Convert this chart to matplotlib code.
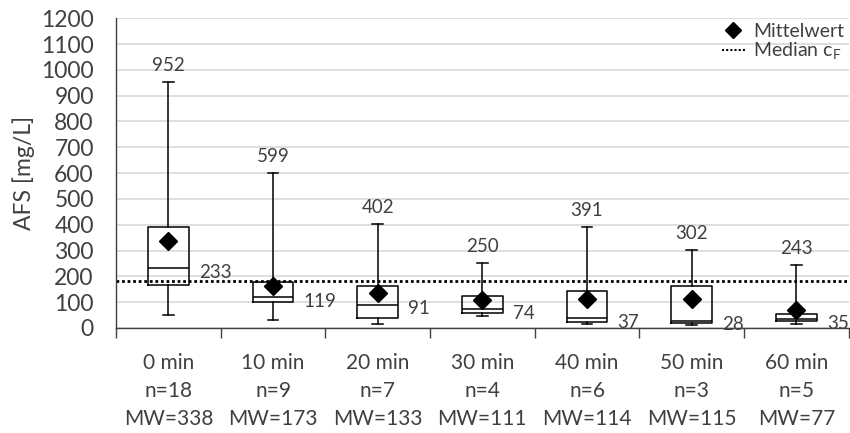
import numpy as np
import matplotlib
matplotlib.use("Agg")
import matplotlib.pyplot as plt
from matplotlib.lines import Line2D

plt.rcParams.update({"font.family": ["Lato", "DejaVu Sans"], "font.size": 15,
                     "mathtext.fontset": "custom", "mathtext.rm": "Lato"})

TXT = "#404040"

# ---- data -----------------------------------------------------------------
times = ["0 min", "10 min", "20 min", "30 min", "40 min", "50 min", "60 min"]
n_vals = [18, 9, 7, 4, 6, 3, 5]
mw_vals = [338, 173, 133, 111, 114, 115, 77]
whis_hi = [952, 599, 402, 250, 391, 302, 243]
q3 = [390, 177, 164, 124, 143, 163, 55]
medians = [233, 119, 91, 74, 37, 28, 35]
q1 = [168, 99, 39, 58, 25, 19, 28]
whis_lo = [50, 30, 15, 45, 17, 10, 17]
means = [338, 162, 135, 110, 111, 114, 71]
median_cf = 181


def main():
    fig = plt.figure(figsize=(8.5, 4.33), dpi=100)
    ax = fig.add_axes([0.1365, 0.2425, 0.862, 0.7155])

    stats = [dict(med=m, q1=a, q3=b, whislo=lo, whishi=hi, mean=mu)
             for m, a, b, lo, hi, mu in zip(medians, q1, q3, whis_lo,
                                            whis_hi, means)]
    pos = np.arange(len(times))
    ax.bxp(stats, positions=pos, widths=0.39, capwidths=0.1,
           showmeans=True, showfliers=False,
           boxprops=dict(color="black", lw=1.1),
           whiskerprops=dict(color="black", lw=1.1),
           capprops=dict(color="black", lw=1.1),
           medianprops=dict(color="black", lw=1.1),
           meanprops=dict(marker="D", markerfacecolor="black",
                          markeredgecolor="black", markersize=9.5))

    ax.axhline(median_cf, color="black", lw=2.0, ls=(0, (1, 1)), zorder=1)

    # value labels: maximum above whisker, median to the right of the box
    for i in pos:
        ax.annotate(f"{whis_hi[i]}", (i, whis_hi[i]), xytext=(0, 6),
                    textcoords="offset points", ha="center", va="bottom",
                    fontsize=13.5, color=TXT)
        ax.annotate(f"{medians[i]}", (i + 0.29, medians[i]), xytext=(0, -3),
                    textcoords="offset points", ha="left", va="center",
                    fontsize=13.5, color=TXT)

    ax.set_xlim(-0.5, len(times) - 0.5)
    ax.set_ylim(0, 1200)
    ax.set_yticks(np.arange(0, 1201, 100))
    ax.yaxis.grid(True, color="#d9d9d9", lw=1.2)
    ax.set_axisbelow(True)
    ax.tick_params(axis="y", length=0, colors=TXT, labelsize=16.5, pad=16)

    ax.set_xticks(pos)
    ax.set_xticklabels([f"{t}\nn={n}\nMW={m}" for t, n, m in
                        zip(times, n_vals, mw_vals)],
                       linespacing=1.5)
    ax.tick_params(axis="x", length=0, colors=TXT, labelsize=15, pad=18)
    ax.set_xticks(np.arange(-0.5, len(times)), minor=True)
    ax.tick_params(axis="x", which="minor", length=7, width=1.0,
                   color="#404040")

    for s in ("top", "right"):
        ax.spines[s].set_visible(False)
    for s in ("left", "bottom"):
        ax.spines[s].set_color("#404040")
        ax.spines[s].set_linewidth(1.0)

    ax.set_ylabel("AFS [mg/L]", fontsize=16.5, color=TXT, labelpad=4)

    handles = [Line2D([], [], marker="D", color="black", ls="none",
                      markersize=8),
               Line2D([], [], color="black", lw=1.5, ls=(0, (1, 1)))]
    leg = ax.legend(handles, ["Mittelwert", r"Median c$_\mathrm{F}$"],
                    loc="upper right", bbox_to_anchor=(1.0, 1.0),
                    frameon=False, fontsize=14, borderpad=0.0,
                    handlelength=1.2, handletextpad=0.4, labelspacing=0.05,
                    borderaxespad=0.25)
    for t in leg.get_texts():
        t.set_color(TXT)

    fig.savefig("out.png", dpi=100)


if __name__ == "__main__":
    main()
